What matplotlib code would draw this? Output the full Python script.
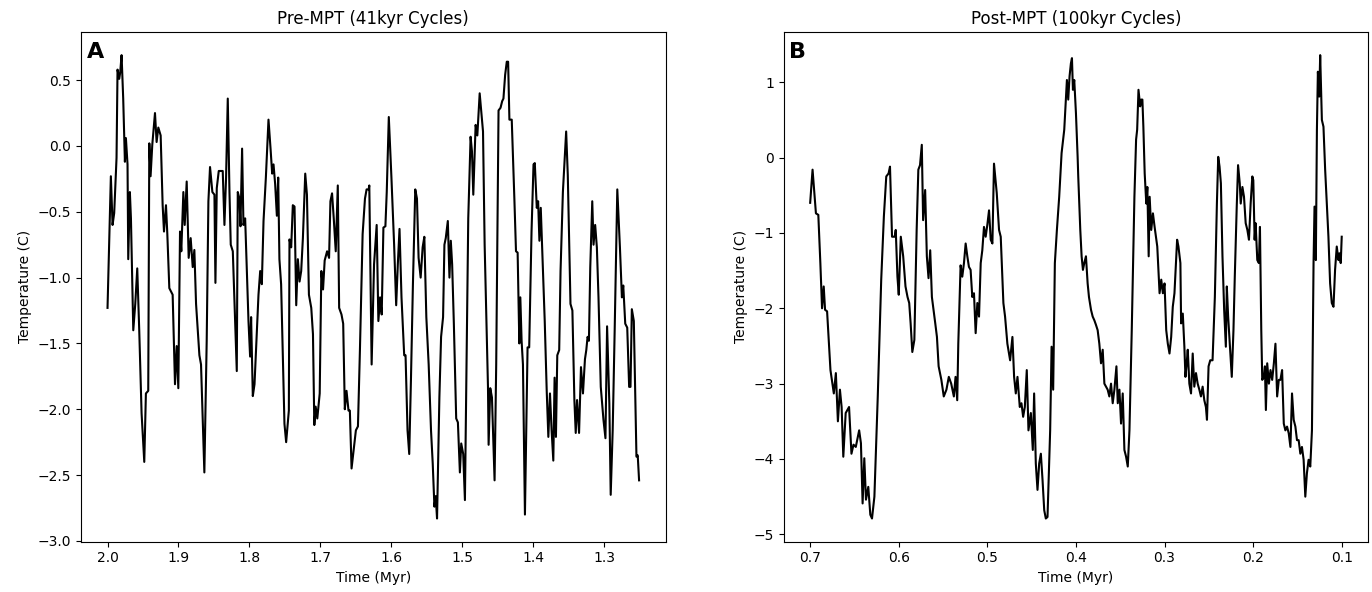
import matplotlib
matplotlib.use("Agg")
import matplotlib.pyplot as plt

# Panel A: pre-MPT record (time in Myr, temperature in C)
time_a = [
    2.0000, 1.9953, 1.9929, 1.9906, 1.9873, 1.9859, 1.9835, 1.9821, 1.9802, 1.9779,
    1.9755, 1.9741, 1.9718, 1.9708, 1.9685, 1.9670, 1.9637, 1.9609, 1.9581, 1.9553,
    1.9520, 1.9482, 1.9459, 1.9426, 1.9411, 1.9393, 1.9369, 1.9331, 1.9308, 1.9284,
    1.9251, 1.9223, 1.9204, 1.9176, 1.9157, 1.9129, 1.9082, 1.9049, 1.9025, 1.9002,
    1.8978, 1.8960, 1.8931, 1.8912, 1.8884, 1.8856, 1.8828, 1.8799, 1.8776, 1.8752,
    1.8705, 1.8682, 1.8635, 1.8602, 1.8578, 1.8555, 1.8522, 1.8493, 1.8479, 1.8460,
    1.8432, 1.8376, 1.8352, 1.8329, 1.8305, 1.8281, 1.8263, 1.8234, 1.8211, 1.8178,
    1.8164, 1.8140, 1.8126, 1.8103, 1.8084, 1.8060, 1.8013, 1.7990, 1.7976, 1.7952,
    1.7928, 1.7905, 1.7872, 1.7848, 1.7825, 1.7801, 1.7768, 1.7731, 1.7702, 1.7679,
    1.7660, 1.7637, 1.7613, 1.7594,
    1.7577, 1.7553, 1.7506, 1.7482, 1.7444, 1.7435, 1.7411, 1.7388, 1.7364, 1.7340,
    1.7317, 1.7293, 1.7270, 1.7246, 1.7213, 1.7189, 1.7161, 1.7128, 1.7104, 1.7085,
    1.7066, 1.7043, 1.7009, 1.6986, 1.6962, 1.6939, 1.6905, 1.6877, 1.6858, 1.6835,
    1.6811, 1.6783, 1.6754, 1.6735, 1.6702, 1.6678, 1.6655, 1.6631, 1.6603, 1.6584,
    1.6560, 1.6527, 1.6499, 1.6470, 1.6442, 1.6404, 1.6371, 1.6348, 1.6319, 1.6310,
    1.6277, 1.6243, 1.6206, 1.6182, 1.6158, 1.6135, 1.6111, 1.6083, 1.6064, 1.6035,
    1.5998, 1.5960, 1.5931, 1.5908, 1.5884, 1.5856, 1.5818, 1.5799, 1.5771, 1.5747,
    1.5723, 1.5695, 1.5662, 1.5638, 1.5615, 1.5586, 1.5558, 1.5534, 1.5506, 1.5473,
    1.5440, 1.5416, 1.5392, 1.5374, 1.5355, 1.5322, 1.5298, 1.5270, 1.5251, 1.5232,
    1.5203, 1.5180, 1.5161, 1.5142, 1.5118, 1.5085, 1.5061, 1.5033, 1.5014, 1.4986,
    1.4962, 1.4939, 1.4915, 1.4882, 1.4863, 1.4844, 1.4811, 1.4787, 1.4754,
    1.4707, 1.4684, 1.4637, 1.4628, 1.4605, 1.4581, 1.4544, 1.4521, 1.4488, 1.4460,
    1.4437, 1.4419, 1.4395, 1.4372, 1.4353, 1.4335, 1.4302, 1.4265, 1.4242, 1.4219,
    1.4195, 1.4181, 1.4163, 1.4144, 1.4116, 1.4079, 1.4056, 1.4023, 1.3995, 1.3977,
    1.3949, 1.3930, 1.3912, 1.3893, 1.3874, 1.3837, 1.3809, 1.3786, 1.3763, 1.3740,
    1.3716, 1.3698, 1.3679, 1.3660, 1.3633, 1.3614, 1.3581, 1.3535, 1.3512, 1.3474,
    1.3447, 1.3419, 1.3400, 1.3381, 1.3353, 1.3326, 1.3298, 1.3270, 1.3251, 1.3233,
    1.3214, 1.3195, 1.3167, 1.3149, 1.3126, 1.3102, 1.3079, 1.3047, 1.3009, 1.2981,
    1.2958, 1.2926, 1.2907, 1.2879, 1.2851, 1.2814, 1.2777, 1.2749, 1.2730, 1.2702,
    1.2674, 1.2647, 1.2628, 1.2609, 1.2581, 1.2544, 1.2526, 1.2507,
]
temp_a = [
    -1.23, -0.23, -0.60, -0.51, -0.09, 0.58, 0.51, 0.56, 0.69, 0.36,
    -0.12, 0.06, -0.14, -0.86, -0.35, -0.55, -1.40, -1.20, -0.93, -1.40,
    -2.03, -2.40, -1.88, -1.86, 0.02, -0.23, 0.01, 0.25, 0.03, 0.14,
    0.08, -0.45, -0.65, -0.45, -0.67, -1.08, -1.13, -1.81, -1.52, -1.84,
    -0.65, -0.80, -0.35, -0.60, -0.27, -0.85, -0.70, -0.92, -0.79, -1.20,
    -1.59, -1.66, -2.48, -1.48, -0.42, -0.16, -0.35, -0.37, -1.04, -0.32,
    -0.19, -0.19, -0.60, -0.24, 0.36, -0.35, -0.75, -0.80, -1.18, -1.71,
    -0.35, -0.40, -0.61, -0.02, -0.60, -0.55, -1.33, -1.60, -1.30, -1.90,
    -1.81, -1.53, -1.13, -0.95, -1.05, -0.57, -0.24, 0.20, -0.02, -0.21,
    -0.14, -0.29, -0.53, -0.24,
    -0.86, -1.05, -2.11, -2.25, -2.01, -0.71, -0.77, -0.45, -0.46, -1.21,
    -0.86, -1.03, -0.95, -0.70, -0.21, -0.37, -1.13, -1.23, -1.43, -2.12,
    -1.98, -2.07, -1.88, -0.95, -1.09, -0.87, -0.80, -0.85, -0.42, -0.36,
    -0.55, -0.80, -0.30, -1.23, -1.28, -1.35, -2.00, -1.86, -2.01, -2.01,
    -2.45, -2.29, -2.16, -2.13, -1.55, -0.67, -0.40, -0.33, -0.33, -0.30,
    -1.66, -0.90, -0.60, -1.33, -1.15, -1.28, -0.62, -0.61, -0.35, 0.22,
    -0.24, -0.75, -1.21, -0.90, -0.63, -1.15, -1.59, -1.59, -2.16, -2.34,
    -1.78, -1.05, -0.33, -0.40, -0.85, -1.00, -0.77, -0.69, -1.30, -1.66,
    -2.16, -2.41, -2.74, -2.66, -2.83, -1.91, -1.45, -1.30, -0.75, -0.70,
    -0.57, -1.00, -0.72, -0.90, -1.35, -2.07, -2.10, -2.48, -2.26, -2.34,
    -2.69, -1.66, -0.55, 0.07, -0.04, -0.37, 0.16, 0.08, 0.40,
    0.11, -0.75, -1.83, -2.27, -1.84, -1.91, -2.54, -1.66, 0.27, 0.29,
    0.34, 0.36, 0.54, 0.64, 0.64, 0.20, 0.20, -0.40, -0.80, -0.81,
    -1.50, -1.15, -1.48, -1.66, -2.80, -1.53, -1.53, -0.65, -0.14, -0.13,
    -0.47, -0.42, -0.72, -0.47, -0.77, -1.33, -1.86, -2.21, -1.88, -2.16,
    -2.39, -1.76, -2.21, -1.59, -1.55, -0.95, -0.35, 0.11, -0.22, -1.20,
    -1.25, -1.93, -2.18, -1.93, -2.18, -1.68, -1.88, -1.62, -1.55, -1.45,
    -1.48, -0.92, -0.42, -0.75, -0.60, -0.77, -1.15, -1.83, -2.08, -2.22,
    -1.37, -1.96, -2.65, -2.16, -1.40, -0.33, -0.77, -1.15, -1.06, -1.35,
    -1.38, -1.83, -1.83, -1.24, -1.33, -2.36, -2.35, -2.54,
]

# Panel B: post-MPT record (time in Myr, temperature in C)
time_b = [
    0.7000, 0.6973, 0.6935, 0.6908, 0.6885, 0.6866, 0.6847, 0.6832, 0.6809, 0.6771,
    0.6733, 0.6710, 0.6687, 0.6664, 0.6645, 0.6626, 0.6599, 0.6561, 0.6534, 0.6511,
    0.6485, 0.6447, 0.6427, 0.6408, 0.6389, 0.6370, 0.6344, 0.6321, 0.6302, 0.6275,
    0.6237, 0.6198, 0.6168, 0.6141, 0.6115, 0.6099, 0.6076, 0.6046, 0.6034, 0.6015,
    0.6000, 0.5977, 0.5950, 0.5924, 0.5901, 0.5882, 0.5866, 0.5847, 0.5824, 0.5798,
    0.5779, 0.5760, 0.5740, 0.5725, 0.5702, 0.5683, 0.5664, 0.5645, 0.5626, 0.5607,
    0.5588, 0.5569, 0.5550, 0.5519, 0.5492, 0.5462, 0.5435, 0.5408, 0.5378, 0.5359,
    0.5340, 0.5328, 0.5302,
    0.5283, 0.5264, 0.5245, 0.5226, 0.5208, 0.5189, 0.5170, 0.5151, 0.5132, 0.5113,
    0.5094, 0.5075, 0.5057, 0.5038, 0.5019, 0.5000, 0.4981, 0.4962, 0.4943, 0.4925,
    0.4894, 0.4868, 0.4849, 0.4819, 0.4800, 0.4774, 0.4743, 0.4717, 0.4698, 0.4679,
    0.4660, 0.4634, 0.4615, 0.4596, 0.4577, 0.4555, 0.4536, 0.4509, 0.4487, 0.4472,
    0.4453, 0.4434, 0.4415, 0.4396, 0.4377, 0.4358, 0.4340, 0.4321, 0.4291, 0.4275,
    0.4257, 0.4238, 0.4215, 0.4189, 0.4162, 0.4132, 0.4102, 0.4087, 0.4072, 0.4057,
    0.4045, 0.4034, 0.4019, 0.4000, 0.3981, 0.3974, 0.3951, 0.3936, 0.3921, 0.3906,
    0.3887, 0.3868, 0.3853, 0.3830, 0.3811, 0.3792, 0.3774, 0.3755, 0.3736, 0.3717,
    0.3698, 0.3679, 0.3642, 0.3623, 0.3604, 0.3585, 0.3566, 0.3543, 0.3528, 0.3509,
    0.3491, 0.3472, 0.3453, 0.3434, 0.3415, 0.3396, 0.3370, 0.3340, 0.3321, 0.3309,
    0.3294, 0.3275, 0.3264,
    0.3250, 0.3239, 0.3224, 0.3206, 0.3194, 0.3179, 0.3168, 0.3150, 0.3131, 0.3112,
    0.3082, 0.3056, 0.3037, 0.3019, 0.3000, 0.2981, 0.2963, 0.2944, 0.2925, 0.2907,
    0.2888, 0.2858, 0.2843, 0.2821, 0.2813, 0.2794, 0.2776, 0.2764, 0.2750, 0.2738,
    0.2720, 0.2701, 0.2682, 0.2664, 0.2645, 0.2626, 0.2607, 0.2589, 0.2570, 0.2551,
    0.2533, 0.2521, 0.2503, 0.2484, 0.2458, 0.2432, 0.2409, 0.2394, 0.2379, 0.2364,
    0.2346, 0.2327, 0.2308, 0.2297, 0.2282, 0.2260, 0.2241, 0.2222, 0.2207, 0.2185,
    0.2170, 0.2151, 0.2140, 0.2121, 0.2103, 0.2084, 0.2065, 0.2047, 0.2028, 0.2009,
    0.1998, 0.1983, 0.1972, 0.1953, 0.1935, 0.1923, 0.1908, 0.1897, 0.1879, 0.1867,
    0.1856, 0.1841, 0.1822, 0.1804, 0.1785, 0.1766, 0.1748, 0.1729, 0.1710, 0.1692,
    0.1673, 0.1654, 0.1636, 0.1617, 0.1598, 0.1579, 0.1561, 0.1542, 0.1523, 0.1505,
    0.1486, 0.1467, 0.1449, 0.1430, 0.1411, 0.1393, 0.1374, 0.1355, 0.1336, 0.1318,
    0.1307, 0.1292, 0.1280, 0.1269, 0.1254, 0.1243, 0.1232, 0.1224, 0.1206, 0.1187,
    0.1168, 0.1150, 0.1131, 0.1112, 0.1093, 0.1075, 0.1056, 0.1037, 0.1026, 0.1011,
    0.1000,
]
temp_b = [
    -0.60, -0.16, -0.74, -0.76, -1.40, -2.00, -1.71, -2.02, -2.04, -2.82,
    -3.13, -2.86, -3.50, -3.08, -3.31, -3.97, -3.39, -3.31, -3.93, -3.81,
    -3.84, -3.62, -3.79, -4.59, -3.99, -4.54, -4.37, -4.74, -4.79, -4.50,
    -3.17, -1.62, -0.78, -0.25, -0.21, -0.12, -1.05, -1.05, -0.96, -1.58,
    -1.82, -1.05, -1.31, -1.71, -1.85, -1.93, -2.20, -2.58, -2.42, -0.96,
    -0.16, -0.10, 0.17, -0.83, -0.43, -1.31, -1.60, -1.23, -1.85, -2.02,
    -2.20, -2.38, -2.77, -2.95, -3.17, -3.08, -2.91, -3.00, -3.17, -2.91,
    -3.22, -2.47, -1.43,
    -1.58, -1.40, -1.14, -1.31, -1.45, -1.49, -1.85, -1.80, -2.33, -1.93,
    -2.11, -1.40, -1.23, -0.92, -1.05, -0.89, -0.70, -1.09, -1.14, -0.08,
    -0.47, -0.96, -1.05, -1.93, -2.11, -2.47, -2.69, -2.38, -2.91, -3.13,
    -2.91, -3.31, -3.26, -3.44, -3.31, -2.82, -3.62, -3.39, -3.88, -3.13,
    -4.06, -4.41, -4.06, -3.93, -4.28, -4.68, -4.79, -4.77, -3.62, -2.51,
    -3.08, -1.40, -0.96, -0.52, 0.06, 0.37, 1.03, 0.77, 1.08, 1.25,
    1.32, 0.90, 1.03, 0.59, 0.01, -0.25, -0.96, -1.31, -1.49, -1.40,
    -1.31, -1.67, -1.85, -2.02, -2.11, -2.16, -2.22, -2.29, -2.47, -2.73,
    -2.55, -3.00, -3.08, -3.17, -3.00, -3.26, -3.08, -2.77, -3.26, -3.08,
    -3.53, -3.13, -3.88, -3.97, -4.10, -3.62, -2.29, -0.52, 0.24, 0.37,
    0.90, 0.68, 0.77,
    0.77, 0.41, -0.21, -0.61, -0.39, -1.31, -0.52, -0.96, -0.74, -0.92,
    -1.18, -1.80, -1.62, -1.80, -1.67, -2.29, -2.47, -2.60, -2.38, -1.98,
    -1.80, -1.09, -1.18, -1.40, -2.20, -2.07, -2.51, -2.91, -2.73, -2.55,
    -3.00, -3.13, -2.60, -3.04, -2.86, -3.00, -3.08, -3.17, -3.04, -3.22,
    -3.31, -3.48, -2.77, -2.69, -2.69, -1.85, -0.61, 0.01, -0.12, -0.34,
    -1.31, -2.02, -2.51, -1.71, -2.11, -2.55, -2.91, -2.29, -1.58, -0.65,
    -0.10, -0.34, -0.61, -0.39, -0.52, -0.87, -0.96, -1.09, -0.61, -0.25,
    -0.30, -1.09, -0.87, -1.36, -1.40, -0.92, -2.29, -2.95, -2.91, -2.77,
    -3.35, -2.73, -3.00, -2.82, -2.95, -2.73, -2.47, -3.17, -2.95, -2.95,
    -2.82, -3.53, -3.62, -3.57, -3.66, -3.84, -3.13, -3.48, -3.57, -3.75,
    -3.75, -3.93, -3.84, -4.01, -4.50, -4.19, -4.01, -4.10, -3.62, -1.40,
    -0.65, -1.36, 0.37, 1.14, 0.81, 1.36, 0.85, 0.50, 0.41, -0.16,
    -0.61, -1.05, -1.67, -1.93, -1.98, -1.49, -1.18, -1.36, -1.27, -1.40,
    -1.05,
]

panels = [
    ("A", "Pre-MPT (41kyr Cycles)", time_a, temp_a),
    ("B", "Post-MPT (100kyr Cycles)", time_b, temp_b),
]

fig, axes = plt.subplots(1, 2, figsize=(13.72, 5.92), dpi=100)
fig.subplots_adjust(left=0.059, right=0.9973, bottom=0.085, top=0.946, wspace=0.2017)

for ax, (letter, title, t, temp) in zip(axes, panels):
    ax.plot(t, temp, color="black", linewidth=1.5)
    ax.invert_xaxis()
    ax.set_title(title, fontsize=12)
    ax.set_xlabel("Time (Myr)")
    ax.set_ylabel("Temperature (C)")
    ax.text(0.01, 0.98, letter, transform=ax.transAxes, fontsize=16,
            fontweight="bold", va="top", ha="left")

fig.savefig("out.png", dpi=100)
